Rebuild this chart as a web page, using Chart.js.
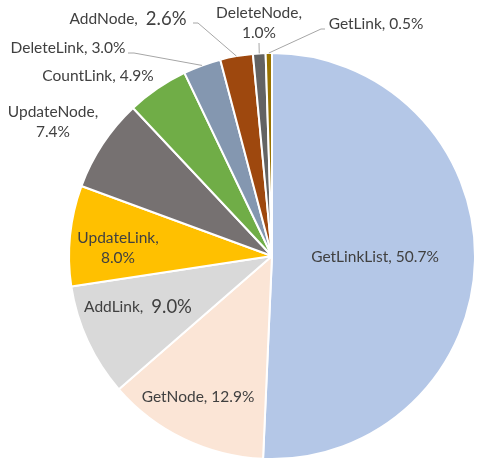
<!DOCTYPE html>
<html>
<head>
<meta charset="utf-8">
<script src="https://cdn.jsdelivr.net/npm/chart.js@4"></script>
<style>
html, body { margin: 0; padding: 0; background: #fff; }
#wrap { width: 477px; height: 460px; position: relative; }
</style>
</head>
<body>
<div id="wrap"><canvas id="chartPie"></canvas></div>
<script>
var labels = ['GetLinkList', 'GetNode', 'AddLink', 'UpdateLink', 'UpdateNode', 'CountLink', 'DeleteLink', 'AddNode', 'DeleteNode', 'GetLink'];
var values = [50.7, 12.9, 9.0, 8.0, 7.4, 4.9, 3.0, 2.6, 1.0, 0.5];
var colors = ['#B4C7E7', '#FBE5D6', '#D9D9D9', '#FFC000', '#767171', '#70AD47', '#8497B0', '#9E480E', '#636363', '#997300'];

var FONT = 'Lato, "Open Sans", sans-serif';
var SIZE = 15.5, BIG = 18.5;

// where excel put each data label (text centre), plus leader line start if any
var labelLayout = [
  { x: 375, y: 257, lines: [[[labels[0] + ', ' + values[0].toFixed(1) + '%']]] },
  { x: 198, y: 397, lines: [[[labels[1] + ', ' + values[1].toFixed(1) + '%']]] },
  { x: 138, y: 307, lines: [[[labels[2] + ',  '], [values[2].toFixed(1) + '%', true]]] },
  { x: 118, y: 238, lines: [[[labels[3] + ',']], [[values[3].toFixed(1) + '%']]] },
  { x: 53, y: 112, lines: [[[labels[4] + ',']], [[values[4].toFixed(1) + '%']]] },
  { x: 98, y: 76, lines: [[[labels[5] + ', ' + values[5].toFixed(1) + '%']]] },
  { x: 68, y: 48, lines: [[[labels[6] + ', ' + values[6].toFixed(1) + '%']]], lead: [[128, 53], [134, 53]] },
  { x: 128, y: 19, lines: [[[labels[7] + ',  '], [values[7].toFixed(1) + '%', true]]], lead: [[193, 23], [198, 23]] },
  { x: 259, y: 13, lines: [[[labels[8] + ',']], [[values[8].toFixed(1) + '%']]], lead: [[259, 43]] },
  { x: 376, y: 24, lines: [[[labels[9] + ', ' + values[9].toFixed(1) + '%']]], lead: [[325, 29], [321, 29]] }
];

var lineGap = 20;

var labelPlugin = {
  id: 'pieLabels',
  afterDatasetsDraw: function(chart) {
    var ctx = chart.ctx;
    var arcs = chart.getDatasetMeta(0).data;
    ctx.save();
    ctx.textBaseline = 'middle';
    ctx.textAlign = 'left';
    ctx.fillStyle = '#404040';
    labelLayout.forEach(function(lab, i) {
      if (lab.lead) {
        var a = arcs[i].getProps(['x', 'y', 'startAngle', 'endAngle', 'outerRadius'], true);
        var mid = (a.startAngle + a.endAngle) / 2;
        var ex = a.x + Math.cos(mid) * a.outerRadius;
        var ey = a.y + Math.sin(mid) * a.outerRadius;
        ctx.strokeStyle = '#A6A6A6';
        ctx.lineWidth = 1;
        ctx.beginPath();
        ctx.moveTo(lab.lead[0][0], lab.lead[0][1]);
        for (var k = 1; k < lab.lead.length; k++) ctx.lineTo(lab.lead[k][0], lab.lead[k][1]);
        ctx.lineTo(ex, ey);
        ctx.stroke();
      }
      lab.lines.forEach(function(segs, li) {
        var w = 0;
        segs.forEach(function(s) {
          ctx.font = (s[1] ? BIG : SIZE) + 'px ' + FONT;
          w += ctx.measureText(s[0]).width;
        });
        var x = lab.x - w / 2;
        var y = lab.y + li * lineGap;
        segs.forEach(function(s) {
          ctx.font = (s[1] ? BIG : SIZE) + 'px ' + FONT;
          ctx.fillText(s[0], x, y);
          x += ctx.measureText(s[0]).width;
        });
      });
    });
    ctx.restore();
  }
};

var ctx = document.getElementById('chartPie').getContext('2d');
var chartPie = new Chart(ctx, {
  type: 'pie',
  data: {
    labels: labels,
    datasets: [{ data: values, backgroundColor: colors, borderColor: '#ffffff', borderWidth: 2, hoverBorderWidth: 2, hoverOffset: 0 }]
  },
  options: {
    responsive: true,
    maintainAspectRatio: false,
    animation: false,
    layout: { padding: { left: 68, right: 1, top: 52, bottom: 0 } },
    plugins: { legend: { display: false }, tooltip: { enabled: false } },
    events: []
  },
  plugins: [labelPlugin]
});
</script>
</body>
</html>
